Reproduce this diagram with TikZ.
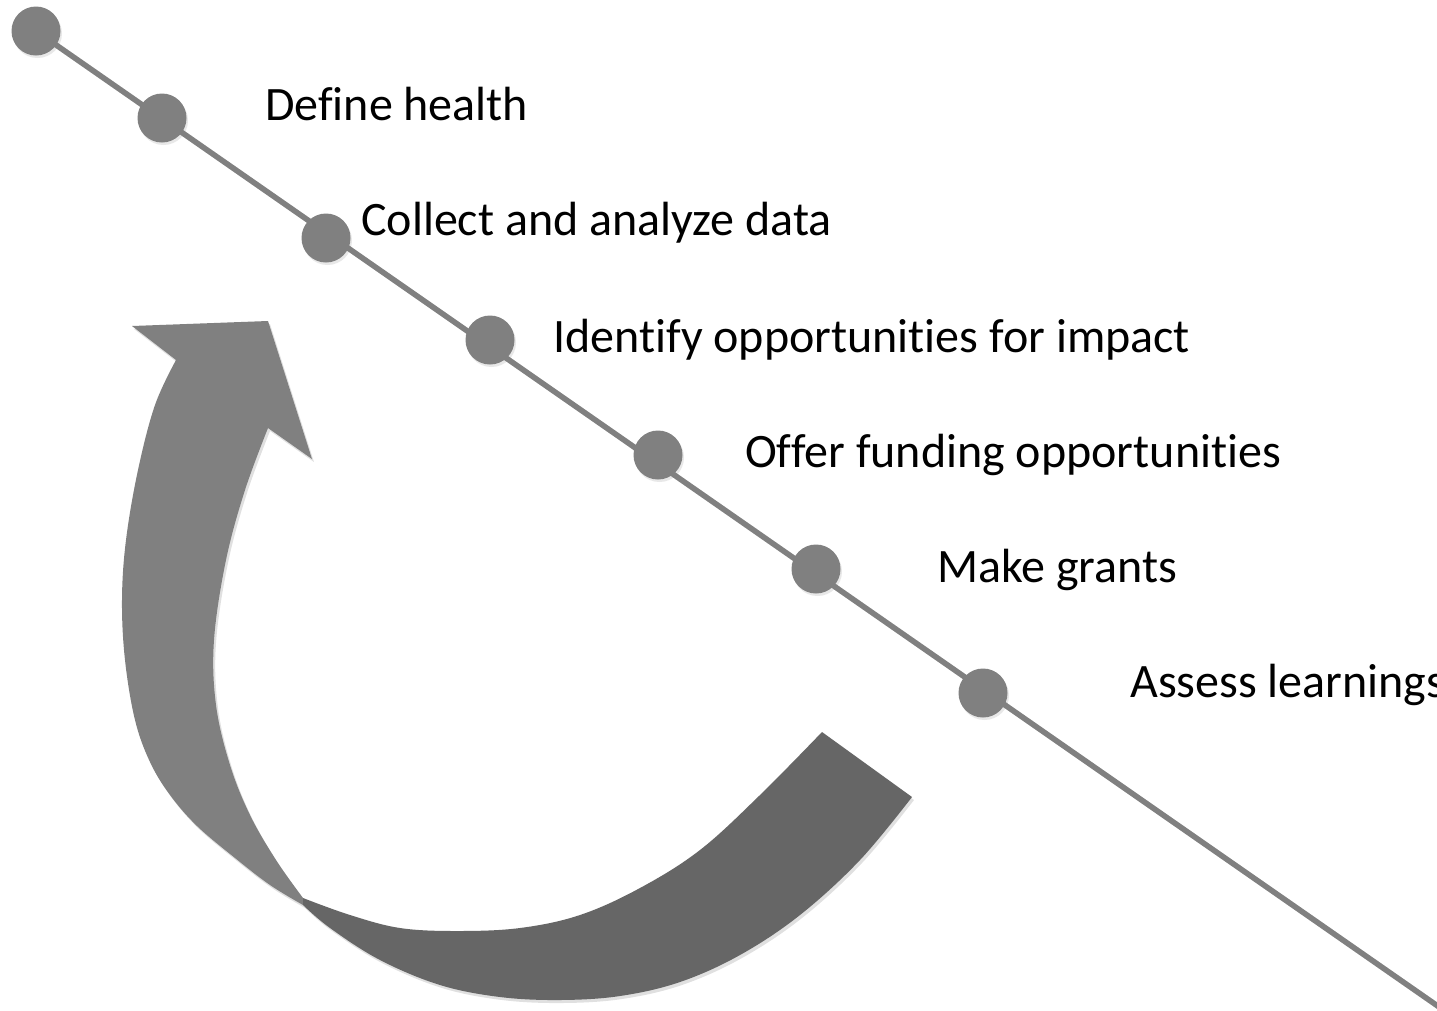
\documentclass[tikz,border=0pt]{standalone}
\usepackage{fontspec}
\setmainfont{Carlito}[Ligatures={NoCommon,NoRequired,NoContextual}]
\usetikzlibrary{shadows}
\definecolor{dotgray}{HTML}{808080}
\definecolor{darkband}{HTML}{666666}
\tikzset{
  stepdot/.style={circle, fill=dotgray, minimum size=49pt, inner sep=0pt,
    drop shadow={shadow xshift=1.5pt, shadow yshift=-2.5pt, opacity=0.18}},
  steplabel/.style={anchor=base west, inner sep=0pt, font=\fontsize{48}{58}\selectfont, text=black},
  timeline/.style={draw=dotgray, line width=5.5pt},
}
\begin{document}
\begin{tikzpicture}[x=1pt, y=-1pt]
\useasboundingbox (0,0) rectangle (1437,1010);
\fill[white] (0,0) rectangle (1437,1010);

% curved arrow: front (light) part with head
\fill[black, opacity=0.12, xshift=2pt, yshift=-3pt]
  (132,326) -- (268,321) -- (312,459) -- (268,428)
  -- plot[smooth, tension=0.6] coordinates {(268,428) (245,490) (226,560) (214,640) (216,705) (230,765) (250,815) (276,860) (303,898)}
  -- plot[smooth, tension=0.6] coordinates {(303,905) (270,885) (235,858) (197,826) (170,795) (150,762) (135,720) (125,660) (122,600) (126,540) (138,470) (155,405) (176,360)}
  -- cycle;
\fill[dotgray]
  (132,326) -- (268,321) -- (312,459) -- (268,428)
  -- plot[smooth, tension=0.6] coordinates {(268,428) (245,490) (226,560) (214,640) (216,705) (230,765) (250,815) (276,860) (303,898)}
  -- plot[smooth, tension=0.6] coordinates {(303,905) (270,885) (235,858) (197,826) (170,795) (150,762) (135,720) (125,660) (122,600) (126,540) (138,470) (155,405) (176,360)}
  -- cycle;
% back (dark) part with tail
\fill[black, opacity=0.12, xshift=2pt, yshift=-3pt]
  plot[smooth, tension=0.6] coordinates {(303,898) (350,915) (400,928) (457,931) (520,928) (580,915) (640,888) (700,850) (760,795) (822,732)}
  -- (912,797)
  -- plot[smooth, tension=0.6] coordinates {(912,797) (860,860) (800,915) (740,955) (680,982) (620,996) (560,1000) (500,997) (440,985) (380,960) (330,928) (303,905)}
  -- cycle;
\fill[darkband]
  plot[smooth, tension=0.6] coordinates {(303,898) (350,915) (400,928) (457,931) (520,928) (580,915) (640,888) (700,850) (760,795) (822,732)}
  -- (912,797)
  -- plot[smooth, tension=0.6] coordinates {(912,797) (860,860) (800,915) (740,955) (680,982) (620,996) (560,1000) (500,997) (440,985) (380,960) (330,928) (303,905)}
  -- cycle;

% timeline
\coordinate (start) at (36,31);
\coordinate (lineend) at (1442,1009);
\draw[timeline, draw=black, opacity=0.1, xshift=1.5pt, yshift=-2.5pt] (start) -- (lineend);
\draw[timeline] (start) -- (lineend);

% dots
\node[stepdot] (d0) at (36,31) {};
\node[stepdot] (d1) at (162,118) {};
\node[stepdot] (d2) at (326,238) {};
\node[stepdot] (d3) at (490,340) {};
\node[stepdot] (d4) at (658,455) {};
\node[stepdot] (d5) at (816,569) {};
\node[stepdot] (d6) at (983,693) {};

% labels
\node[steplabel] (t1) at (265,120) {Define health};
\node[steplabel] (t2) at (361,235) {Collect and analyze data};
\node[steplabel] (t3) at (553,352) {Identify opportunities for impact};
\node[steplabel] (t4) at (745,467) {Offer funding opportunities};
\node[steplabel] (t5) at (937,582) {Make grants};
\node[steplabel] (t6) at (1130,697) {Assess learnings};
\end{tikzpicture}
\end{document}
